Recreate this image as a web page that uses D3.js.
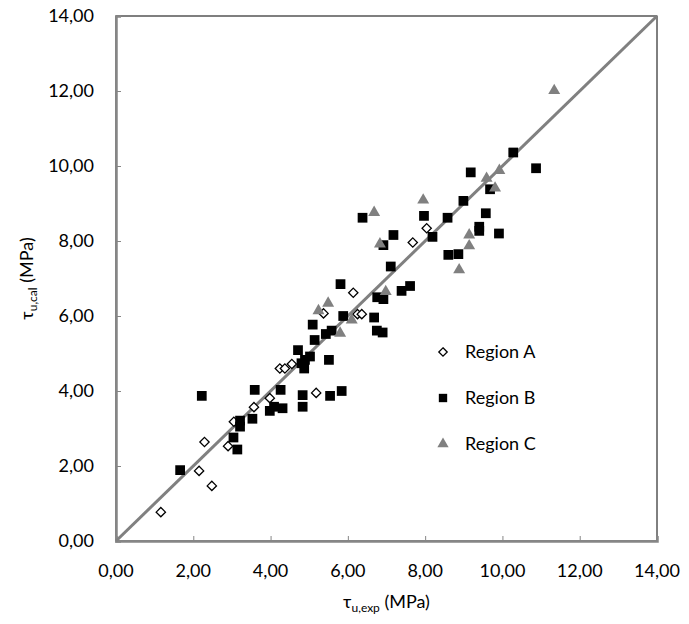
<!DOCTYPE html>
<html lang="en">
<meta charset="utf-8">
<title>tau cal vs exp</title>
<style>
    body { margin: 0; background: white; }
    svg text { font-family: Lato, "Open Sans", sans-serif; fill: #000; }
</style>
<body>
<svg id="canvas"></svg>

<script src="https://cdn.jsdelivr.net/npm/d3@7/dist/d3.min.js"></script>
<script>

    /////////////////////// Data //////////////////////
    var region_A = [
        [1.16, 0.77], [2.15, 1.87], [2.48, 1.47], [2.29, 2.64], [2.90, 2.53],
        [3.05, 3.18], [3.57, 3.57], [3.98, 3.81], [4.24, 4.60], [4.37, 4.60],
        [4.55, 4.72], [5.18, 3.95], [5.37, 6.07], [6.14, 6.62], [6.25, 6.05],
        [6.36, 6.05], [7.68, 7.96], [8.04, 8.34]
    ];
    var region_B = [
        [1.66, 1.89], [2.22, 3.87], [3.14, 2.44], [3.04, 2.76], [3.21, 3.21],
        [3.21, 3.05], [3.53, 3.26], [3.59, 4.03], [3.98, 3.47], [4.09, 3.58],
        [4.31, 3.54], [4.26, 4.03], [4.71, 5.09], [4.80, 4.74], [4.87, 4.60],
        [4.89, 4.83], [5.02, 4.92], [4.83, 3.89], [4.83, 3.58], [5.14, 5.36],
        [5.09, 5.77], [5.51, 4.83], [5.54, 3.87], [5.84, 4.00], [5.43, 5.52],
        [5.58, 5.61], [5.81, 6.85], [5.88, 6.00], [6.68, 5.96], [6.75, 5.61],
        [6.90, 5.56], [6.76, 6.50], [6.92, 6.45], [7.11, 7.32], [7.39, 6.67],
        [7.61, 6.80], [6.38, 8.62], [7.97, 8.67], [7.18, 8.16], [6.92, 7.89],
        [8.19, 8.11], [8.58, 8.62], [8.99, 9.07], [9.18, 9.83], [10.28, 10.36],
        [10.87, 9.94], [9.68, 9.38], [9.57, 8.74], [9.40, 8.38], [9.40, 8.27],
        [9.91, 8.20], [8.60, 7.63], [8.86, 7.65]
    ];
    var region_C = [
        [5.24, 6.14], [5.49, 6.34], [5.80, 5.54], [6.10, 5.89], [6.98, 6.65],
        [6.83, 7.92], [6.68, 8.76], [7.95, 9.09], [9.14, 8.16], [9.14, 7.87],
        [8.88, 7.23], [9.59, 9.67], [9.92, 9.88], [9.81, 9.41], [11.34, 12.01]
    ];
    var equality_line = [[0, 0], [14, 14]];
    var tick_values   = [0, 2, 4, 6, 8, 10, 12, 14];
    var legend_names  = ["Region A", "Region B", "Region C"];
    ///////////////////////////////////////////////////

    ///////// Position and Dimension Variables ////////
    var dimensions  = [689, 624];
    var plot_left   = 116;
    var plot_right  = 657;
    var plot_top    = 16;
    var plot_bottom = 541;
    var tick_len    = 5;
    ///////////////////////////////////////////////////

    ///////////////// Style Variables /////////////////
    var axis_color  = '#868686';
    var line_color  = '#808080';
    var tri_color   = '#808080';
    var font_size   = 18;
    var sub_size    = 12;
    ///////////////////////////////////////////////////

    var canvas = d3.select("#canvas")
        .attr('width',  dimensions[0])
        .attr('height', dimensions[1]);

    var x = d3.scaleLinear().domain([0, 14]).range([plot_left, plot_right]);
    var y = d3.scaleLinear().domain([0, 14]).range([plot_bottom, plot_top]);
    var fmt = function (d) { return d3.format(".2f")(d).replace(".", ","); };

    //////////////////// plot frame ///////////////////
    canvas.append("rect")
        .attr('x', plot_left).attr('y', plot_top)
        .attr('width',  plot_right - plot_left)
        .attr('height', plot_bottom - plot_top)
        .attr('fill', 'none')
        .attr('stroke', '#000')
        .attr('stroke-width', 1);
    ///////////////////////////////////////////////////

    ////////////////////// axes ///////////////////////
    var x_axis = canvas.append("g")
        .attr('transform', 'translate(0,' + plot_bottom + ')')
        .call(d3.axisTop(x).tickValues(tick_values).tickSize(tick_len).tickFormat(""));
    var y_axis = canvas.append("g")
        .attr('transform', 'translate(' + plot_left + ',0)')
        .call(d3.axisRight(y).tickValues(tick_values).tickSize(tick_len).tickFormat(""));
    [x_axis, y_axis].forEach(function (a) {
        a.select(".domain").attr('stroke', axis_color).attr('stroke-width', 2.5);
        a.selectAll(".tick line").attr('stroke', axis_color).attr('stroke-width', 1);
    });

    canvas.selectAll(".xlab").data(tick_values).enter().append("text")
        .attr('x', function (d) { return x(d); })
        .attr('y', plot_bottom + 36)
        .attr('text-anchor', 'middle')
        .attr('font-size', font_size)
        .text(fmt);
    canvas.selectAll(".ylab").data(tick_values).enter().append("text")
        .attr('x', plot_left - 22)
        .attr('y', function (d) { return y(d) + 6; })
        .attr('text-anchor', 'end')
        .attr('font-size', font_size)
        .text(fmt);
    ///////////////////////////////////////////////////

    ////////////////// axis titles ////////////////////
    var xt = canvas.append("text")
        .attr('x', (plot_left + plot_right) / 2)
        .attr('y', 608)
        .attr('text-anchor', 'middle')
        .attr('font-size', font_size);
    xt.append("tspan").text("τ");
    xt.append("tspan").attr('font-size', sub_size).attr('dy', 4).text("u,exp");
    xt.append("tspan").attr('dy', -4).text(" (MPa)");

    var yt = canvas.append("text")
        .attr('transform', 'translate(33,' + ((plot_top + plot_bottom) / 2) + ') rotate(-90)')
        .attr('text-anchor', 'middle')
        .attr('font-size', font_size);
    yt.append("tspan").text("τ");
    yt.append("tspan").attr('font-size', sub_size).attr('dy', 4).text("u,cal");
    yt.append("tspan").attr('dy', -4).text(" (MPa)");
    ///////////////////////////////////////////////////

    ///////////////// 1:1 line ////////////////////////
    canvas.append("path")
        .datum(equality_line)
        .attr('d', d3.line().x(function (d) { return x(d[0]); }).y(function (d) { return y(d[1]); }))
        .attr('stroke', line_color)
        .attr('stroke-width', 3)
        .attr('fill', 'none');
    ///////////////////////////////////////////////////

    ///////////////////// markers /////////////////////
    var diamond  = d3.symbol().type(d3.symbolDiamond2).size(55)();
    var square   = d3.symbol().type(d3.symbolSquare).size(95)();
    var triangle = d3.symbol().type(d3.symbolTriangle).size(62)();

    canvas.append("g").selectAll("path").data(region_A).enter().append("path")
        .attr('d', diamond)
        .attr('transform', function (d) { return 'translate(' + x(d[0]) + ',' + y(d[1]) + ')'; })
        .attr('fill', 'white').attr('stroke', '#000').attr('stroke-width', 1.3);
    canvas.append("g").selectAll("path").data(region_B).enter().append("path")
        .attr('d', square)
        .attr('transform', function (d) { return 'translate(' + x(d[0]) + ',' + y(d[1]) + ')'; })
        .attr('fill', '#000');
    canvas.append("g").selectAll("path").data(region_C).enter().append("path")
        .attr('d', triangle)
        .attr('transform', function (d) { return 'translate(' + x(d[0]) + ',' + y(d[1]) + ')'; })
        .attr('fill', tri_color);
    ///////////////////////////////////////////////////

    ////////////////////// legend /////////////////////
    var legend_syms = [
        d3.symbol().type(d3.symbolDiamond2).size(45)(),
        d3.symbol().type(d3.symbolSquare).size(70)(),
        d3.symbol().type(d3.symbolTriangle).size(55)()
    ];
    var legend = canvas.selectAll(".leg").data(legend_names).enter().append("g")
        .attr('transform', function (d, i) { return 'translate(443,' + (352 + i * 46) + ')'; });
    legend.append("path")
        .attr('d', function (d, i) { return legend_syms[i]; })
        .attr('fill', function (d, i) { return i === 0 ? 'white' : (i === 1 ? '#000' : tri_color); })
        .attr('stroke', function (d, i) { return i === 0 ? '#000' : 'none'; })
        .attr('stroke-width', 1.3);
    legend.append("text")
        .attr('x', 22)
        .attr('y', 6)
        .attr('font-size', font_size)
        .text(function (d) { return d; });
    ///////////////////////////////////////////////////

</script>
</body>
</html>
